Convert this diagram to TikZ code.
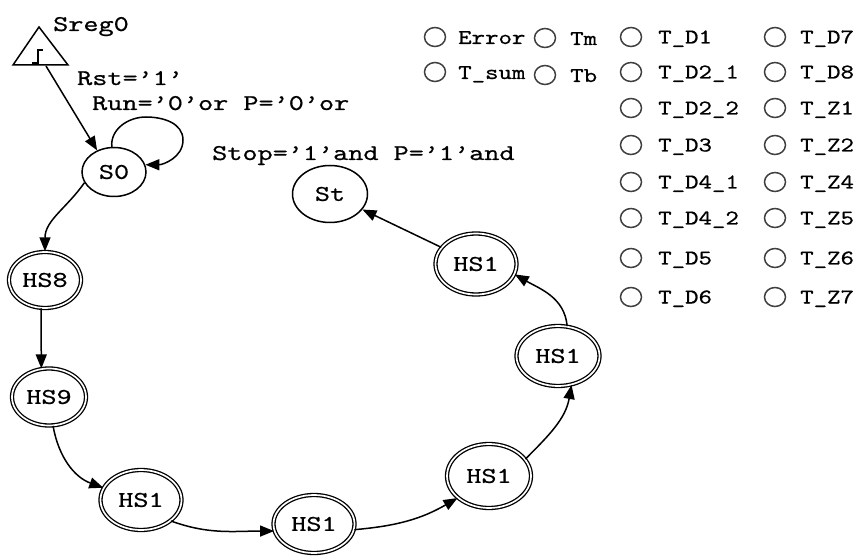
\documentclass[tikz,border=0pt]{standalone}
\usepackage{fontspec}
\newfontfamily\labfont[FakeStretch=1.28,FakeBold=0.6]{lmmono10-regular.otf}
\newfontfamily\legfont[FakeStretch=1.22,FakeBold=0.6]{lmmono10-regular.otf}
\usetikzlibrary{arrows.meta,shapes.geometric}
\begin{document}
\begin{tikzpicture}[x=1pt,y=-1pt,
  state/.style={ellipse, draw, line width=1.5pt, inner sep=0pt,
    font=\labfont\fontsize{22.5}{22.5}\selectfont},
  hstate/.style={state, double, double distance=1.7pt, line width=1.3pt},
  arr/.style={line width=1.5pt, -{Triangle[length=14pt,width=11pt]}},
  lab/.style={anchor=base west, inner sep=0pt, font=\labfont\fontsize{22.5}{22.5}\selectfont},
  legc/.style={ellipse, draw=black!75, line width=1.5pt, inner sep=0pt, minimum width=21pt, minimum height=19pt},
  legt/.style={anchor=base west, inner sep=0pt, font=\legfont\fontsize{21}{21}\selectfont}]
\useasboundingbox[fill=white] (0,0) rectangle (857,556);

% reset symbol
\draw[line width=1.5pt, line join=miter] (13,65) -- (39,27) -- (68,65) -- cycle;
\draw[line width=1.5pt] (32,63) -- (38,63) -- (38,50) -- (43,50);
\coordinate (trig) at (46,66);
\node[lab] (sreg) at (53,31) {Sreg0};

% states
\node[state, minimum width=64pt, minimum height=49pt] (S0) at (114,172) {S0};
\node[state, minimum width=75pt, minimum height=57pt] (St) at (330,194) {St};
\node[hstate, minimum width=72pt, minimum height=56pt] (HS8) at (45,280) {HS8};
\node[hstate, minimum width=74pt, minimum height=57pt] (HS9) at (49,397) {HS9};
\node[hstate, minimum width=81pt, minimum height=60pt] (HSa) at (141,500) {HS1};
\node[hstate, minimum width=81pt, minimum height=58pt] (HSb) at (314,524) {HS1};
\node[hstate, minimum width=84pt, minimum height=64pt] (HSc) at (489,476) {HS1};
\node[hstate, minimum width=83pt, minimum height=60pt] (HSd) at (558,356) {HS1};
\node[hstate, minimum width=81pt, minimum height=61pt] (HSe) at (476,264) {HS1};

% labels
\node[lab] (l1) at (77,85) {Rst=’1’};
\node[lab] (l2) at (92,110) {Run=’0’or P=’0’or};
\node[lab] (l3) at (212,160) {Stop=’1’and P=’1’and};

% transitions
\draw[arr] (trig) -- (S0.128);
\draw[arr] (S0.95) to[out=95,in=180] (146,117) to[out=0,in=90] (183,140) to[out=-90,in=0] (S0.13);
\draw[arr] (S0.200) to[out=235,in=90] (HS8.north);
\draw[arr] (HS8.262) -- (HS9.105);
\draw[arr] (HS9.-82) to[out=-80,in=160] (HSa.162);
\draw[arr] (HSa.-35) to[out=-20,in=180] (HSb.190);
\draw[arr] (HSb.-8) to[out=5,in=210] (HSc.215);
\draw[arr] (HSc.25) to[out=45,in=-100] (HSd.-65);
\draw[arr] (HSd.73) to[out=95,in=-30] (HSe.-15);
\draw[arr] (HSe) -- (St);

% legend
\node[legc] (c1) at (435,37) {};  \node[legt] (t1) at (458,44) {Error};
\node[legc] (c2) at (435,72) {};  \node[legt] (t2) at (458,79) {T\_sum};
\node[legc] (c3) at (545,38) {};  \node[legt] (t3) at (570,45) {Tm};
\node[legc] (c4) at (545,75) {};  \node[legt] (t4) at (570,82) {Tb};
\foreach \i/\y/\a/\b in {1/37/T\_D1/T\_D7, 2/72/T\_D2\_1/T\_D8, 3/108/T\_D2\_2/T\_Z1,
  4/145/T\_D3/T\_Z2, 5/182/T\_D4\_1/T\_Z4, 6/218/T\_D4\_2/T\_Z5, 7/258/T\_D5/T\_Z6, 8/297/T\_D6/T\_Z7}{
  \node[legc] (ca\i) at (631,\y) {};
  \node[legt] (ta\i) at (658,\y+6.5) {\a};
  \node[legc] (cb\i) at (775,\y) {};
  \node[legt] (tb\i) at (800,\y+6.5) {\b};
}
\end{tikzpicture}
\end{document}
